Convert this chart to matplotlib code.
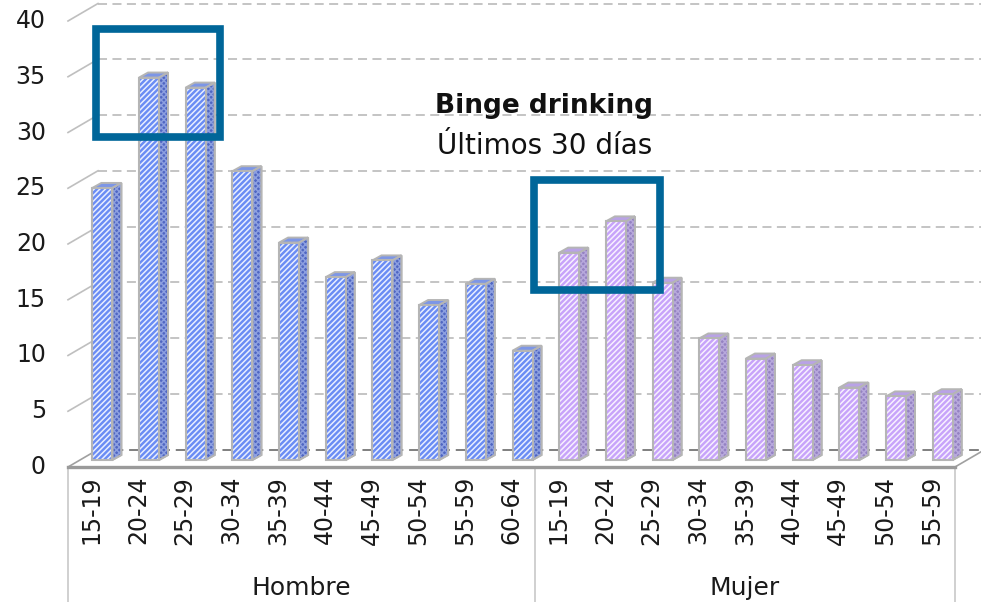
import matplotlib
matplotlib.use("Agg")
import matplotlib.pyplot as plt
from matplotlib.patches import Polygon, Rectangle

plt.rcParams['font.family'] = ['DejaVu Sans']
plt.rcParams['hatch.linewidth'] = 1.1

# ---------------- data ----------------
age_groups_h = ["15-19", "20-24", "25-29", "30-34", "35-39", "40-44", "45-49", "50-54", "55-59", "60-64"]
values_h = [24.4, 34.3, 33.4, 25.9, 19.5, 16.4, 17.9, 13.9, 15.8, 9.8]
age_groups_m = ["15-19", "20-24", "25-29", "30-34", "35-39", "40-44", "45-49", "50-54", "55-59"]
values_m = [18.6, 21.4, 15.9, 10.9, 9.1, 8.5, 6.5, 5.7, 5.9]
groups = ["Hombre", "Mujer"]
y_ticks = [0, 5, 10, 15, 20, 25, 30, 35, 40]
title = "Binge drinking"
subtitle = "Últimos 30 días"

# ---------------- figure ----------------
W, H = 981, 602
fig = plt.figure(figsize=(W / 100, H / 100), dpi=100)
L, R, B, T = 68, 955, 467, 21   # front plane in pixels
ax = fig.add_axes([L / W, (H - B) / H, (R - L) / W, (B - T) / H])
n = len(values_h) + len(values_m)
ax.set_xlim(-0.5, n - 0.5)
ax.set_ylim(0, 40)
ax.axis('off')

ux = n / (R - L)        # data units per pixel (x)
uy = 40 / (B - T)       # data units per pixel (y)

DX, DY = 30 * ux, 17.5 * uy          # full depth of chart
FX, FY = 11 * ux, 7 * uy             # bar front-face offset
BW = 20 * ux                         # bar face width
SX, SY = 9 * ux, 5 * uy              # bar depth

grid_c = "#bfbfbf"
txt_c = "#1a1a1a"
# back wall gridlines and left wall diagonals
for v in y_ticks:
    if v == 0:
        ax.plot([-0.5 + DX, n - 0.5 + DX], [DY, DY], color="#7f7f7f", lw=1.4,
                dashes=(5, 3), clip_on=False, zorder=1)
    else:
        ax.plot([-0.5 + DX, n - 0.5 + DX], [v + DY, v + DY], color=grid_c, lw=1.3,
                dashes=(5, 3), clip_on=False, zorder=1)
        ax.plot([-0.5, -0.5 + DX], [v, v + DY], color=grid_c, lw=1.2, clip_on=False, zorder=1)
    ax.text(-0.5 - 22 * ux, v, str(v), ha='right', va='center', fontsize=17, color=txt_c)

# floor
ax.plot([-0.5, -0.5 + DX], [0, DY], color="#a0a0a0", lw=1.2, clip_on=False, zorder=1)
ax.plot([n - 0.5, n - 0.5 + DX], [0, DY], color="#a0a0a0", lw=1.2, clip_on=False, zorder=1)
ax.plot([-0.5, n - 0.5], [0, 0], color="#9a9a9a", lw=2.4, clip_on=False, zorder=5)

def draw_bar(i, v, face, hatch_c, side, side_h, top):
    x0 = i + FX - BW / 2
    y0 = FY
    ec = "#b5b5b5"
    side_pts = [(x0 + BW, y0), (x0 + BW + SX, y0 + SY), (x0 + BW + SX, y0 + v + SY), (x0 + BW, y0 + v)]
    ax.add_patch(Polygon(side_pts, closed=True, facecolor=side, edgecolor=ec,
                         lw=1.4, zorder=3, clip_on=False))
    ax.add_patch(Polygon(side_pts, closed=True, fill=False, hatch='xxxxxx',
                         edgecolor=side_h, lw=0, zorder=3.1, clip_on=False))
    ax.add_patch(Polygon(side_pts, closed=True, fill=False, edgecolor=ec,
                         lw=1.4, zorder=3.2, clip_on=False))
    top_pts = [(x0, y0 + v), (x0 + BW, y0 + v), (x0 + BW + SX, y0 + v + SY), (x0 + SX, y0 + v + SY)]
    ax.add_patch(Polygon(top_pts, closed=True, facecolor=top, edgecolor=ec,
                         lw=1.4, zorder=3, clip_on=False))
    ax.bar(x0, v, width=BW, bottom=y0, align='edge', color=face, edgecolor=ec, lw=1.4,
           zorder=4, clip_on=False)
    ax.bar(x0, v, width=BW, bottom=y0, align='edge', fill=False, hatch='//////',
           edgecolor=hatch_c, lw=0, zorder=4.1, clip_on=False)
    ax.bar(x0, v, width=BW, bottom=y0, align='edge', fill=False, edgecolor=ec, lw=1.5,
           zorder=4.2, clip_on=False)

for i, v in enumerate(values_h):
    draw_bar(i, v, "#6a8cf4", "#e8eeff", "#4f66c2", "#8c9fe0", "#7d96e6")
for j, v in enumerate(values_m):
    draw_bar(len(values_h) + j, v, "#c7a3fa", "#f7f0ff", "#9482c2", "#b7a8dc", "#b9a2e6")

# category labels
labels = age_groups_h + age_groups_m
for i, lab in enumerate(labels):
    ax.text(i, -9 * uy, lab, rotation=90, ha='center', va='top', fontsize=17, color=txt_c)

# group separators and labels
sep_c = "#c8c8c8"
y_bottom = -(H - B) * uy
for xs in [-0.5, len(values_h) - 0.5, n - 0.5]:
    ax.plot([xs, xs], [0, y_bottom], color=sep_c, lw=1.2, clip_on=False, zorder=1)
ax.text((len(values_h) - 1) / 2, -121 * uy, groups[0], ha='center', va='center',
        fontsize=18, color=txt_c)
ax.text(len(values_h) + (len(values_m) - 1) / 2, -121 * uy, groups[1], ha='center',
        va='center', fontsize=18, color=txt_c)

# title
ax.text(9.7, 32.4, title, ha='center', va='center', fontsize=19, fontweight='bold',
        color="#111111", zorder=6)
ax.text(9.7, 28.8, subtitle, ha='center', va='center', fontsize=20, color="#111111", zorder=6)

# highlight boxes (annotation)
boxes = [(0.1, 29.6, 2.66, 9.7), (9.48, 15.9, 2.7, 9.8)]
for bx, by, bw, bh in boxes:
    ax.add_patch(Rectangle((bx, by), bw, bh, fill=False, edgecolor="#006699", lw=5.5,
                           zorder=7, clip_on=False))

fig.savefig("out.png", dpi=100)
